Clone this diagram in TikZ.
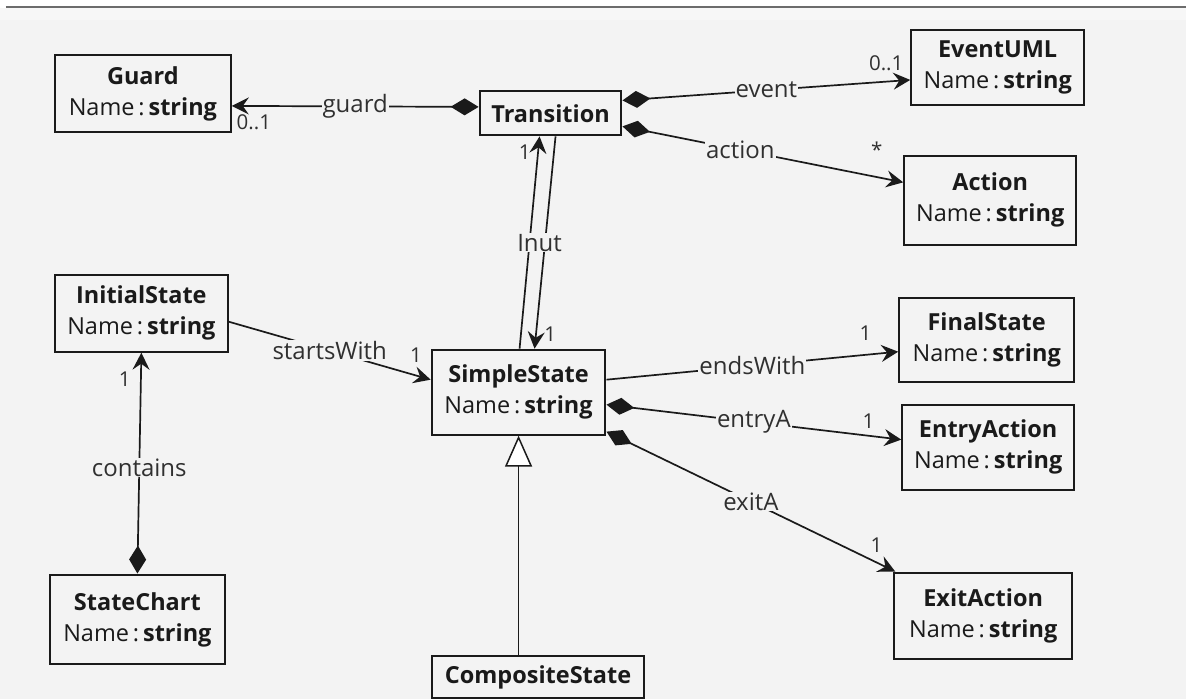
\documentclass[tikz,border=0pt]{standalone}
\usepackage{fontspec}
\setmainfont{Open Sans}
\usetikzlibrary{arrows.meta}
\definecolor{canvas}{HTML}{F3F3F3}
\definecolor{strip}{HTML}{F7F7F7}
\definecolor{ink}{HTML}{1A1A1A}
\definecolor{labelink}{HTML}{303030}
\begin{document}
\begin{tikzpicture}[x=1pt,y=-1pt,
  cls/.style={draw=ink,line width=2pt,fill=canvas,align=center,inner sep=0pt,
    font=\fontsize{23.5}{31}\selectfont,text=ink},
  assoc/.style={draw=ink,line width=1.7pt},
  lbl/.style={fill=canvas,inner sep=1pt,text=labelink,font=\fontsize{24}{26}\selectfont},
  mult/.style={text=labelink,inner sep=0pt,font=\fontsize{20.5}{22}\selectfont},
  nav/.tip={Stealth[length=17pt,width=17pt,inset=6pt]},
  compo/.tip={Diamond[length=28pt,width=17pt]},
  gen/.tip={Triangle[open,length=31pt,width=27pt,fill=white,line width=1.5pt]}
]
% canvas
\fill[white] (0,0) rectangle (1187,700);
\fill[strip] (0,8) rectangle (1187,20);
\fill[canvas] (0,20) rectangle (1187,700);
\draw[gray!85!black,line width=2pt] (6,7) -- (1187,7);
\useasboundingbox (0,0) rectangle (1187,700);

% classes
\node[cls,minimum width=176pt,minimum height=77pt] (guard) at (143,93.5)
  {\textbf{Guard}\\Name\,:\,\textbf{string}};
\node[cls,minimum width=142pt,minimum height=44pt] (trans) at (551,113.5)
  {\textbf{Transition}};
\node[cls,minimum width=173pt,minimum height=75pt] (event) at (998.5,67.5)
  {\textbf{EventUML}\\Name\,:\,\textbf{string}};
\node[cls,minimum width=172pt,minimum height=89pt] (action) at (991,200.5)
  {\textbf{Action}\\Name\,:\,\textbf{string}};
\node[cls,minimum width=173pt,minimum height=77pt] (initial) at (141.5,313.5)
  {\textbf{InitialState}\\Name\,:\,\textbf{string}};
\node[cls,minimum width=174pt,minimum height=85pt] (simple) at (519,392.5)
  {\textbf{SimpleState}\\Name\,:\,\textbf{string}};
\node[cls,minimum width=175pt,minimum height=84pt] (final) at (987.5,340)
  {\textbf{FinalState}\\Name\,:\,\textbf{string}};
\node[cls,minimum width=172pt,minimum height=85pt] (entry) at (989,447.5)
  {\textbf{EntryAction}\\Name\,:\,\textbf{string}};
\node[cls,minimum width=178pt,minimum height=87pt] (exit) at (984,616.5)
  {\textbf{ExitAction}\\Name\,:\,\textbf{string}};
\node[cls,minimum width=175pt,minimum height=90pt] (chart) at (137.5,620)
  {\textbf{StateChart}\\Name\,:\,\textbf{string}};
\node[cls,minimum width=213pt,minimum height=42pt] (comp) at (538.5,678)
  {\textbf{CompositeState}};

% Transition associations
\draw[assoc,{compo}-{nav}] ([yshift=6.5pt]trans.west) -- node[lbl,pos=0.5]{guard}
  ([yshift=-12.5pt]guard.east) node[mult,anchor=north west,xshift=4pt,yshift=-8pt]{0..1};
\draw[assoc,{compo}-{nav}] ([yshift=13pt]trans.east) -- node[lbl,pos=0.5]{event}
  ([yshift=-12.5pt]event.west) node[mult,anchor=south east,xshift=-6pt,yshift=8pt]{0..1};
\draw[assoc,{compo}-{nav}] ([yshift=-13pt]trans.east) -- node[lbl,pos=0.42]{action}
  ([yshift=18pt]action.west) node[mult,anchor=south east,xshift=-20pt,yshift=24pt]{*};

% Transition <-> SimpleState
\draw[assoc,-{nav}] ([xshift=1pt]simple.north) -- ([xshift=-11pt]trans.south)
  node[mult,anchor=north east,xshift=-8pt,yshift=-8pt]{1};
\draw[assoc,-{nav}] ([xshift=5pt]trans.south) -- ([xshift=16pt]simple.north)
  node[mult,anchor=south west,xshift=9pt,yshift=6pt]{1};
\node[lbl] (inut) at (540,243) {Inut};

% SimpleState associations
\draw[assoc,-{nav}] ([yshift=-8.5pt]initial.east) -- node[lbl,pos=0.5]{startsWith}
  ([yshift=12.5pt]simple.west) node[mult,anchor=south east,xshift=-8pt,yshift=16pt]{1};
\draw[assoc,{compo}-{nav}] (chart.north) -- node[lbl,pos=0.48]{contains}
  (initial.south) node[mult,anchor=north east,xshift=-10pt,yshift=-18pt]{1};
\draw[assoc,line width=1.5pt,-{gen}] ([xshift=-19.5pt]comp.north) -- (simple.south);
\draw[assoc,-{nav}] ([yshift=12.5pt]simple.east) -- node[lbl,pos=0.5]{endsWith}
  ([yshift=-12pt]final.west) node[mult,anchor=south east,xshift=-26pt,yshift=10pt]{1};
\draw[assoc,{compo}-{nav}] ([yshift=-12.5pt]simple.east) -- node[lbl,pos=0.5]{entryA}
  ([yshift=7.5pt]entry.west) node[mult,anchor=south east,xshift=-26pt,yshift=10pt]{1};
\draw[assoc,{compo}-{nav}] ([yshift=4pt]simple.south east) -- node[lbl,pos=0.5]{exitA}
  ([xshift=2pt]exit.north west) node[mult,anchor=south east,xshift=-12pt,yshift=18pt]{1};
\end{tikzpicture}
\end{document}
